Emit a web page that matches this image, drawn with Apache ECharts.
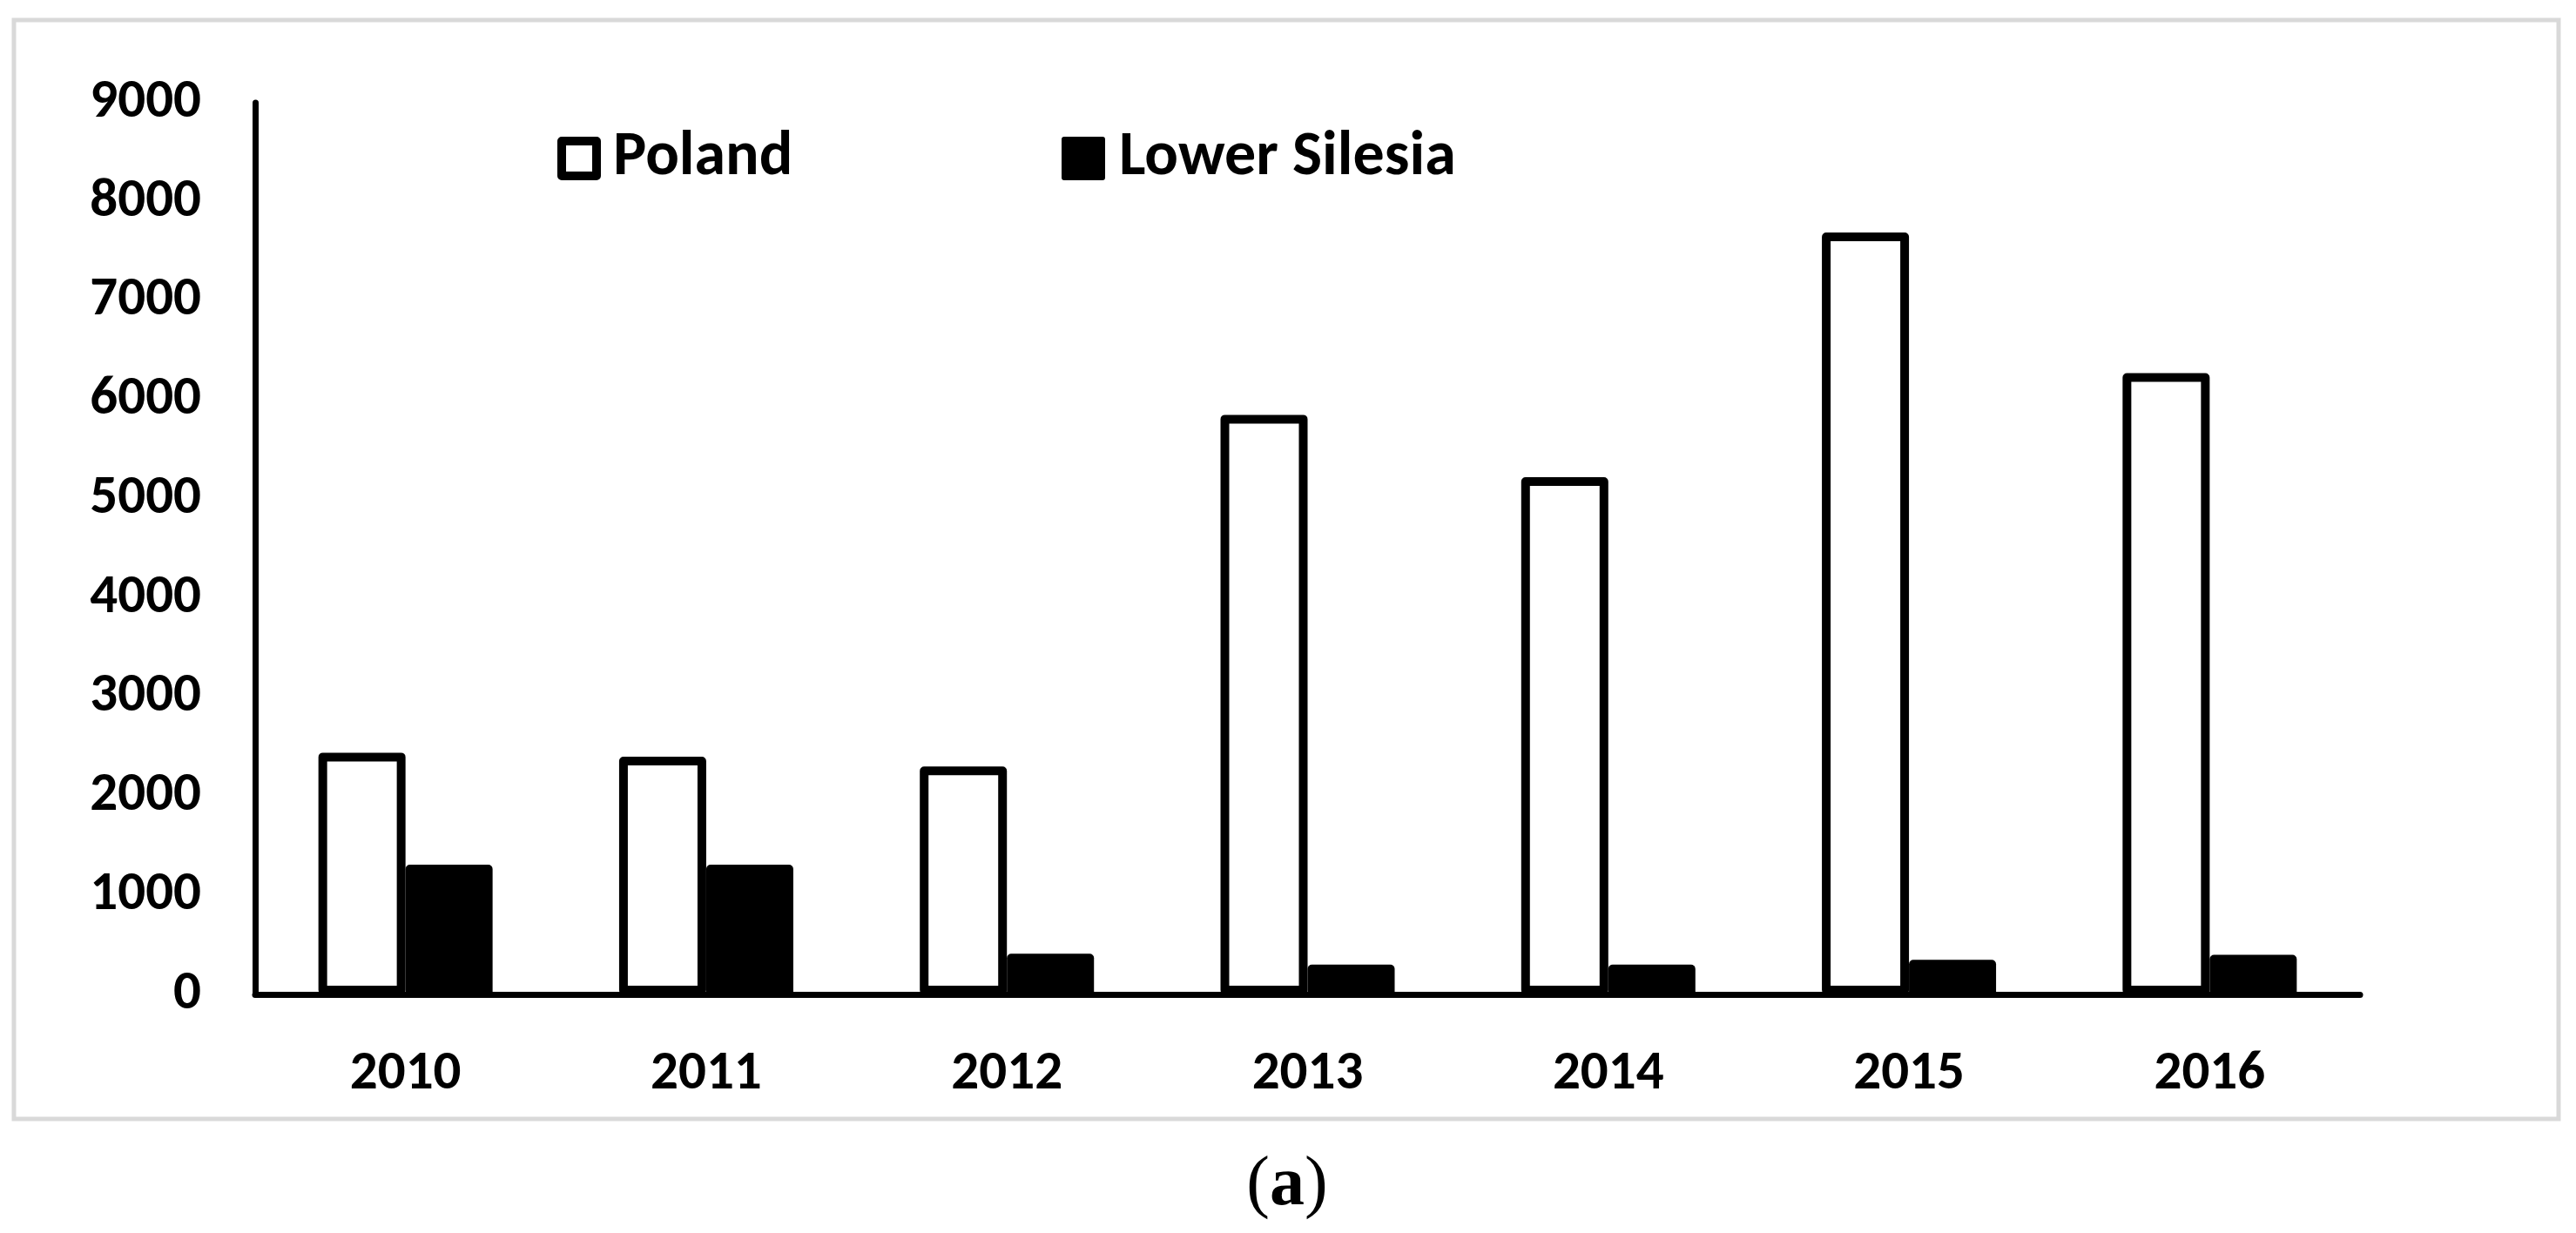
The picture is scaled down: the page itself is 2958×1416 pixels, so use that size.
<!DOCTYPE html>
<html>
<head>
<meta charset="utf-8">
<style>
html,body{margin:0;padding:0;background:#fff;}
#chart{width:2958px;height:1416px;}
</style>
<script src="https://cdn.jsdelivr.net/npm/echarts@6/dist/echarts.min.js"></script>
</head>
<body>
<div id="chart"></div>
<script>
const years = ['2010','2011','2012','2013','2014','2015','2016'];
const poland = [2440, 2400, 2300, 5850, 5220, 7690, 6270];
const lowerSilesia = [1310, 1310, 410, 300, 300, 350, 400];
const yTicks = {min: 0, max: 9000, interval: 1000};

const FONT = 'Carlito, Lato, "Open Sans", sans-serif';
const chart = echarts.init(document.getElementById('chart'));
chart.setOption({
  backgroundColor: '#fff',
  animation: false,
  grid: {left: 293, right: 248, top: 118, bottom: 274},
  legend: [
    {
      data: [{name: 'Poland', icon: 'rect', itemStyle: {color: '#fff', borderColor: '#000', borderWidth: 10, borderJoin: 'round'}}],
      left: 640, top: 146, padding: 0,
      itemWidth: 40, itemHeight: 40,
      textStyle: {fontFamily: FONT, fontWeight: 'bold', fontSize: 72, color: '#000', lineHeight: 50, padding: [0,0,0,14]}
    },
    {
      data: [{name: 'Lower Silesia', icon: 'rect', itemStyle: {color: '#000', borderColor: '#000', borderWidth: 6, borderJoin: 'round'}}],
      left: 1219, top: 146, padding: 0,
      itemWidth: 44, itemHeight: 44,
      textStyle: {fontFamily: FONT, fontWeight: 'bold', fontSize: 72, color: '#000', lineHeight: 50, padding: [0,0,0,14]}
    }
  ],
  xAxis: {
    type: 'category',
    data: years,
    axisLine: {show: true, lineStyle: {color: '#000', width: 7, cap: 'round'}},
    axisTick: {show: false},
    axisLabel: {fontFamily: FONT, fontWeight: 'bold', fontSize: 63, color: '#000', margin: 62, lineHeight: 60}
  },
  yAxis: {
    type: 'value',
    min: yTicks.min, max: yTicks.max, interval: yTicks.interval,
    axisLine: {show: true, lineStyle: {color: '#000', width: 7}},
    axisTick: {show: false},
    splitLine: {show: false},
    axisLabel: {fontFamily: FONT, fontWeight: 'bold', fontSize: 63, color: '#000', margin: 62,
      formatter: function (v) { return String(v); }}
  },
  series: [
    {
      name: 'Poland', type: 'bar', data: poland,
      barWidth: 100, barGap: '0%',
      itemStyle: {color: '#fff', borderColor: '#000', borderWidth: 10, borderJoin: 'round'}
    },
    {
      name: 'Lower Silesia', type: 'bar', data: lowerSilesia,
      barWidth: 100, barGap: '0%',
      itemStyle: {color: '#000', borderRadius: [5,5,0,0]}
    }
  ],
  graphic: [
    {
      type: 'rect', silent: true, z: -1,
      shape: {x: 16, y: 23, width: 2922, height: 1262},
      style: {fill: 'none', stroke: '#d9d9d9', lineWidth: 5}
    },
    {
      type: 'text', silent: true,
      x: 1478, y: 1362,
      style: {
        text: '{n|(}{b|a}{n|)}',
        align: 'center', verticalAlign: 'middle',
        rich: {
          n: {fontFamily: '"Liberation Serif", "Times New Roman", serif', fontSize: 80, color: '#000'},
          b: {fontFamily: '"Liberation Serif", "Times New Roman", serif', fontSize: 80, fontWeight: 'bold', color: '#000'}
        }
      }
    }
  ]
});
</script>
</body>
</html>
